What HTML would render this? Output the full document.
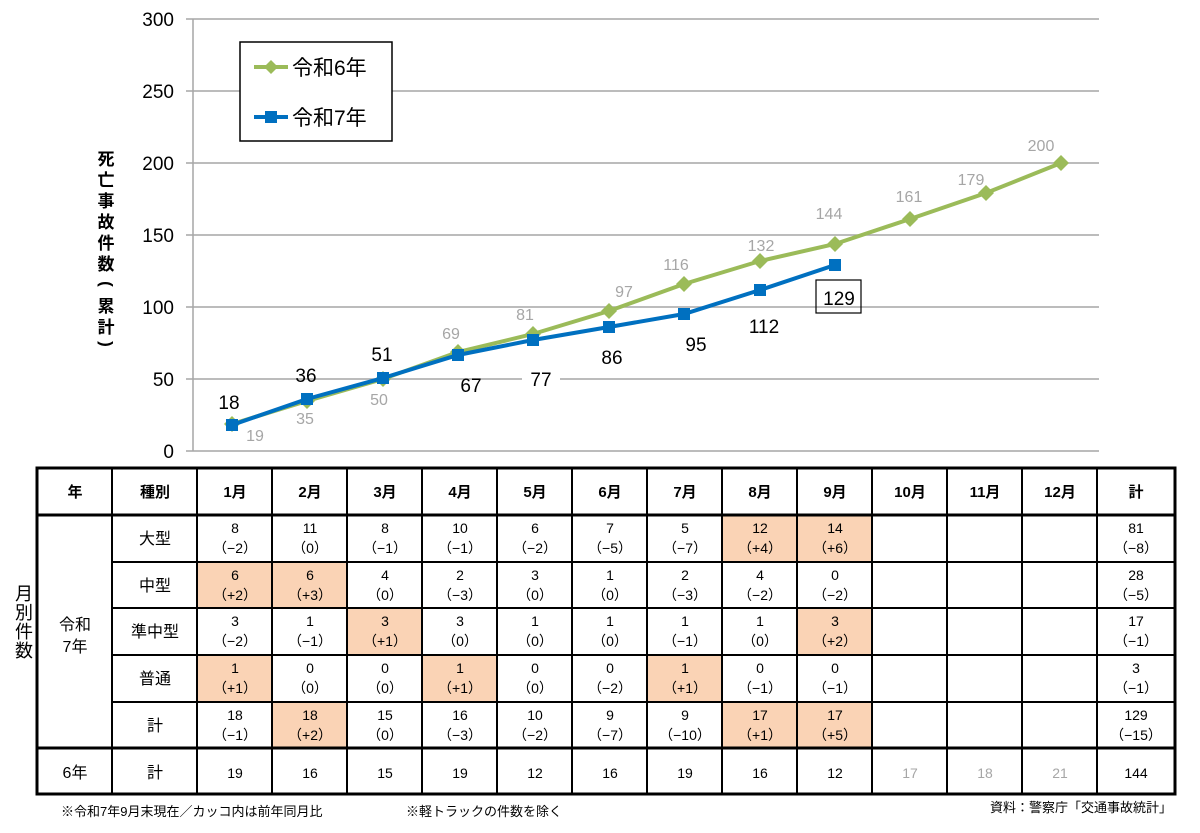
<!DOCTYPE html>
<html><head><meta charset="utf-8"><style>
body{margin:0;background:#fff;}
svg{display:block;font-family:"Liberation Sans","Noto Sans CJK JP",sans-serif;}
</style></head><body>
<svg width="1200" height="833" viewBox="0 0 1200 833" xmlns="http://www.w3.org/2000/svg">
<g stroke="#a6a6a6" stroke-width="1.5">
<line x1="186" y1="19" x2="1099" y2="19"/><line x1="186" y1="91" x2="1099" y2="91"/>
<line x1="186" y1="163" x2="1099" y2="163"/><line x1="186" y1="235" x2="1099" y2="235"/>
<line x1="186" y1="307" x2="1099" y2="307"/><line x1="186" y1="379" x2="1099" y2="379"/>
<line x1="186" y1="451" x2="1099" y2="451"/><line x1="193" y1="19" x2="193" y2="451"/>
</g>
<g font-size="19" text-anchor="end" fill="#000">
<text x="174" y="26">300</text><text x="174" y="98">250</text><text x="174" y="170">200</text>
<text x="174" y="242">150</text><text x="174" y="314">100</text><text x="174" y="386">50</text><text x="174" y="458">0</text>
</g>
<g font-size="17" font-weight="bold" text-anchor="middle">
<text x="106" y="165">死</text><text x="106" y="186">亡</text><text x="106" y="207">事</text><text x="106" y="228">故</text>
<text x="106" y="249">件</text><text x="106" y="270">数</text><text x="106" y="289" transform="rotate(90 106 284)">(</text>
<text x="106" y="312">累</text><text x="106" y="333">計</text><text x="106" y="349" transform="rotate(90 106 344)">)</text>
</g>
<polyline fill="none" stroke="#9bbb59" stroke-width="4" points="232,424 307,401 383,379 458,352 533,334 609,311 684,284 760,261 835,244 910,219 986,193 1061,163"/>
<g fill="#9bbb59">
<path d="M232 416l8 8-8 8-8-8z"/><path d="M307 393l8 8-8 8-8-8z"/><path d="M383 371l8 8-8 8-8-8z"/><path d="M458 344l8 8-8 8-8-8z"/><path d="M533 326l8 8-8 8-8-8z"/><path d="M609 303l8 8-8 8-8-8z"/><path d="M684 276l8 8-8 8-8-8z"/><path d="M760 253l8 8-8 8-8-8z"/><path d="M835 236l8 8-8 8-8-8z"/><path d="M910 211l8 8-8 8-8-8z"/><path d="M986 185l8 8-8 8-8-8z"/><path d="M1061 155l8 8-8 8-8-8z"/>
</g>
<polyline fill="none" stroke="#0070c0" stroke-width="4" points="232,425 307,399 383,378 458,355 533,340 609,327 684,314 760,290 835,265"/>
<g fill="#0070c0">
<rect x="226" y="419" width="12" height="12"/><rect x="301" y="393" width="12" height="12"/><rect x="377" y="372" width="12" height="12"/><rect x="452" y="349" width="12" height="12"/><rect x="527" y="334" width="12" height="12"/><rect x="603" y="321" width="12" height="12"/><rect x="678" y="308" width="12" height="12"/><rect x="754" y="284" width="12" height="12"/><rect x="829" y="259" width="12" height="12"/>
</g>
<g font-size="16" fill="#a6a6a6" text-anchor="middle">
<text x="255" y="441">19</text><text x="305" y="424">35</text><text x="379" y="405">50</text><text x="451" y="339">69</text><text x="525" y="320">81</text><text x="624" y="297">97</text><text x="676" y="270">116</text><text x="761" y="251">132</text><text x="829" y="219">144</text><text x="909" y="202">161</text><text x="971" y="185">179</text><text x="1041" y="151">200</text>
</g>
<rect x="522" y="368" width="38" height="22" fill="#fff"/>
<g font-size="19" fill="#000" text-anchor="middle">
<text x="229" y="409">18</text><text x="306" y="382">36</text><text x="382" y="361">51</text><text x="471" y="392">67</text><text x="541" y="386">77</text><text x="612" y="364">86</text><text x="696" y="351">95</text><text x="764" y="333">112</text><text x="839" y="305">129</text>
</g>
<rect x="816" y="280" width="45" height="33" fill="none" stroke="#000" stroke-width="1.2"/>
<rect x="240" y="42" width="152" height="99" fill="#fff" stroke="#000" stroke-width="1.5"/>
<line x1="254" y1="67" x2="288" y2="67" stroke="#9bbb59" stroke-width="4"/><path d="M271 60l7 7-7 7-7-7z" fill="#9bbb59"/>
<line x1="254" y1="117" x2="288" y2="117" stroke="#0070c0" stroke-width="4"/><rect x="265" y="111" width="12" height="12" fill="#0070c0"/>
<g font-size="21" fill="#000"><text x="292" y="75">令和6年</text><text x="292" y="125">令和7年</text></g>
<g fill="#fad3b5">
<rect x="722" y="515" width="75" height="47"/><rect x="797" y="515" width="75" height="47"/>
<rect x="197" y="562" width="75" height="46"/><rect x="272" y="562" width="75" height="46"/>
<rect x="347" y="608" width="75" height="47"/><rect x="797" y="608" width="75" height="47"/>
<rect x="197" y="655" width="75" height="47"/><rect x="422" y="655" width="75" height="47"/><rect x="647" y="655" width="75" height="47"/>
<rect x="272" y="702" width="75" height="46"/><rect x="722" y="702" width="75" height="46"/><rect x="797" y="702" width="75" height="46"/>
</g>
<g stroke="#000" stroke-width="2" fill="none">
<line x1="112" y1="562" x2="1175" y2="562"/><line x1="112" y1="608" x2="1175" y2="608"/><line x1="112" y1="655" x2="1175" y2="655"/><line x1="112" y1="702" x2="1175" y2="702"/>
<line x1="37" y1="515" x2="1175" y2="515" stroke-width="3"/><line x1="37" y1="748" x2="1175" y2="748" stroke-width="3"/>
<line x1="112" y1="468" x2="112" y2="794"/><line x1="197" y1="468" x2="197" y2="794"/><line x1="272" y1="468" x2="272" y2="794"/><line x1="347" y1="468" x2="347" y2="794"/><line x1="422" y1="468" x2="422" y2="794"/><line x1="497" y1="468" x2="497" y2="794"/><line x1="572" y1="468" x2="572" y2="794"/><line x1="647" y1="468" x2="647" y2="794"/><line x1="722" y1="468" x2="722" y2="794"/><line x1="797" y1="468" x2="797" y2="794"/><line x1="872" y1="468" x2="872" y2="794"/><line x1="947" y1="468" x2="947" y2="794"/><line x1="1022" y1="468" x2="1022" y2="794"/><line x1="1097" y1="468" x2="1097" y2="794"/>
<rect x="37" y="468" width="1138" height="326" stroke-width="3"/>
</g>
<g font-size="15" font-weight="bold" text-anchor="middle" fill="#000">
<text x="75" y="497">年</text><text x="155" y="497">種別</text>
<text x="235" y="497">1月</text><text x="310" y="497">2月</text><text x="385" y="497">3月</text><text x="460" y="497">4月</text><text x="535" y="497">5月</text><text x="610" y="497">6月</text><text x="685" y="497">7月</text><text x="760" y="497">8月</text><text x="835" y="497">9月</text><text x="910" y="497">10月</text><text x="985" y="497">11月</text><text x="1060" y="497">12月</text><text x="1136" y="497">計</text>
</g>
<g font-size="16" text-anchor="middle" fill="#000">
<text x="155" y="544">大型</text><text x="155" y="591">中型</text><text x="155" y="637">準中型</text><text x="155" y="684">普通</text><text x="155" y="731">計</text><text x="155" y="778">計</text>
<text x="75" y="778">6年</text><text x="75" y="630">令和</text><text x="75" y="652">7年</text>
</g>
<g font-size="18" text-anchor="middle" fill="#000">
<text x="24" y="600">月</text><text x="24" y="619">別</text><text x="24" y="638">件</text><text x="24" y="657">数</text>
</g>
<g font-size="14" text-anchor="middle" fill="#000">
<text x="235" y="533">8</text><text x="235" y="553">（−2）</text><text x="310" y="533">11</text><text x="310" y="553">（0）</text><text x="385" y="533">8</text><text x="385" y="553">（−1）</text><text x="460" y="533">10</text><text x="460" y="553">（−1）</text><text x="535" y="533">6</text><text x="535" y="553">（−2）</text><text x="610" y="533">7</text><text x="610" y="553">（−5）</text><text x="685" y="533">5</text><text x="685" y="553">（−7）</text><text x="760" y="533">12</text><text x="760" y="553">（+4）</text><text x="835" y="533">14</text><text x="835" y="553">（+6）</text><text x="1136" y="533">81</text><text x="1136" y="553">（−8）</text>
<text x="235" y="580">6</text><text x="235" y="600">（+2）</text><text x="310" y="580">6</text><text x="310" y="600">（+3）</text><text x="385" y="580">4</text><text x="385" y="600">（0）</text><text x="460" y="580">2</text><text x="460" y="600">（−3）</text><text x="535" y="580">3</text><text x="535" y="600">（0）</text><text x="610" y="580">1</text><text x="610" y="600">（0）</text><text x="685" y="580">2</text><text x="685" y="600">（−3）</text><text x="760" y="580">4</text><text x="760" y="600">（−2）</text><text x="835" y="580">0</text><text x="835" y="600">（−2）</text><text x="1136" y="580">28</text><text x="1136" y="600">（−5）</text>
<text x="235" y="626">3</text><text x="235" y="646">（−2）</text><text x="310" y="626">1</text><text x="310" y="646">（−1）</text><text x="385" y="626">3</text><text x="385" y="646">（+1）</text><text x="460" y="626">3</text><text x="460" y="646">（0）</text><text x="535" y="626">1</text><text x="535" y="646">（0）</text><text x="610" y="626">1</text><text x="610" y="646">（0）</text><text x="685" y="626">1</text><text x="685" y="646">（−1）</text><text x="760" y="626">1</text><text x="760" y="646">（0）</text><text x="835" y="626">3</text><text x="835" y="646">（+2）</text><text x="1136" y="626">17</text><text x="1136" y="646">（−1）</text>
<text x="235" y="673">1</text><text x="235" y="693">（+1）</text><text x="310" y="673">0</text><text x="310" y="693">（0）</text><text x="385" y="673">0</text><text x="385" y="693">（0）</text><text x="460" y="673">1</text><text x="460" y="693">（+1）</text><text x="535" y="673">0</text><text x="535" y="693">（0）</text><text x="610" y="673">0</text><text x="610" y="693">（−2）</text><text x="685" y="673">1</text><text x="685" y="693">（+1）</text><text x="760" y="673">0</text><text x="760" y="693">（−1）</text><text x="835" y="673">0</text><text x="835" y="693">（−1）</text><text x="1136" y="673">3</text><text x="1136" y="693">（−1）</text>
<text x="235" y="720">18</text><text x="235" y="740">（−1）</text><text x="310" y="720">18</text><text x="310" y="740">（+2）</text><text x="385" y="720">15</text><text x="385" y="740">（0）</text><text x="460" y="720">16</text><text x="460" y="740">（−3）</text><text x="535" y="720">10</text><text x="535" y="740">（−2）</text><text x="610" y="720">9</text><text x="610" y="740">（−7）</text><text x="685" y="720">9</text><text x="685" y="740">（−10）</text><text x="760" y="720">17</text><text x="760" y="740">（+1）</text><text x="835" y="720">17</text><text x="835" y="740">（+5）</text><text x="1136" y="720">129</text><text x="1136" y="740">（−15）</text>
<text x="235" y="778">19</text><text x="310" y="778">16</text><text x="385" y="778">15</text><text x="460" y="778">19</text><text x="535" y="778">12</text><text x="610" y="778">16</text><text x="685" y="778">19</text><text x="760" y="778">16</text><text x="835" y="778">12</text><text x="1136" y="778">144</text>
<text x="910" y="778" fill="#a6a6a6">17</text><text x="985" y="778" fill="#a6a6a6">18</text><text x="1060" y="778" fill="#a6a6a6">21</text>
</g>
<g font-size="13" fill="#000">
<text x="61" y="816">※令和7年9月末現在／カッコ内は前年同月比</text>
<text x="406" y="816">※軽トラックの件数を除く</text>
<text x="1172" y="812" text-anchor="end">資料：警察庁「交通事故統計」</text>
</g>
</svg>
</body></html>
